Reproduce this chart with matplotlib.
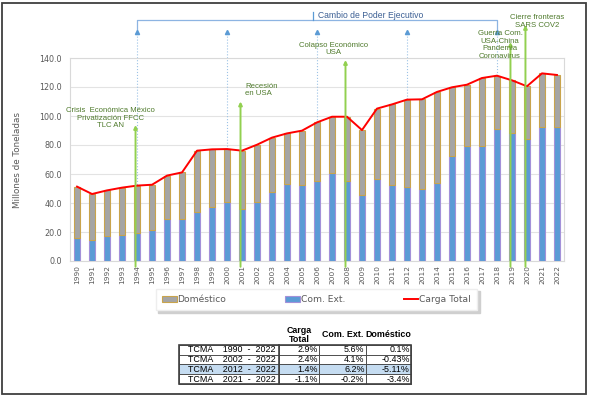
import matplotlib.pyplot as plt
from matplotlib.patches import Rectangle

# datos (millones de toneladas)
years = list(range(1990, 2023))
carga_total = [51.3, 46.2, 48.7, 50.6, 52.0, 52.6, 58.9, 61.1, 76.1, 77.0, 77.2,
               76.1, 80.2, 85.1, 88.0, 89.9, 95.6, 99.5, 99.5, 90.3, 105.1, 108.0,
               111.3, 111.5, 116.6, 119.8, 121.6, 126.2, 127.8, 124.6, 120.5, 129.4, 128.3]
com_ext = [16.1, 14.3, 17.0, 17.9, 19.5, 21.6, 28.7, 28.7, 33.8, 37.2, 40.9,
           35.6, 40.9, 47.8, 53.1, 52.6, 55.4, 60.7, 55.2, 45.5, 56.3, 52.4,
           50.8, 49.9, 54.0, 72.6, 79.5, 79.5, 91.3, 88.0, 83.9, 92.4, 92.2]
domestico = [35.2, 31.9, 31.7, 32.7, 32.5, 31.0, 30.2, 32.4, 42.3, 39.8, 36.3,
             40.5, 39.3, 37.3, 34.9, 37.3, 40.2, 38.8, 44.3, 44.8, 48.8, 55.6,
             60.5, 61.6, 62.6, 47.2, 42.1, 46.7, 36.5, 36.6, 36.6, 37.0, 36.1]

# cambios de poder ejecutivo
cambio_anios = [1994, 2000, 2006, 2012, 2018]

# eventos: (año, punta de flecha, texto, x texto, y texto, alineación)
eventos = [
    (1994, 93.8, 'Crisis  Económica México\nPrivatización FFCC\nTLC AN', 1992.2, 98.6, 'center'),
    (2001, 110.0, 'Recesión\nen USA', 2001.2, 118.0, 'left'),
    (2008, 138.6, 'Colapso Económico\nUSA', 2007.1, 146.2, 'center'),
    (2019, 151.0, 'Guerra Com.\nUSA-China\nPandemia\nCoronavirus', 2018.2, 149.0, 'center'),
    (2020, 162.8, 'Cierre fronteras\nSARS COV2', 2020.7, 165.2, 'center'),
]

# tabla TCMA
periodos = ['TCMA    1990  -  2022', 'TCMA    2002  -  2022',
            'TCMA    2012  -  2022', 'TCMA    2021  -  2022']
tcma_total = ['2.9%', '2.4%', '1.4%', '-1.1%']
tcma_ext = ['5.6%', '4.1%', '6.2%', '-0.2%']
tcma_dom = ['0.1%', '-0.43%', '-5.11%', '-3.4%']

gris = '#595959'
fig = plt.figure(figsize=(5.89, 3.97), dpi=100)
ax = fig.add_axes([70 / 589, 1 - 261 / 397, 494 / 589, 203 / 397])

x = [y - 1990 for y in years]
b_ext = ax.bar(x, com_ext, width=0.45, color='#5b9bd5', edgecolor='#a391d9',
               linewidth=0.8, label='Com. Ext.', zorder=3)
b_dom = ax.bar(x, domestico, width=0.45, bottom=com_ext, color='#a5a5a5',
               edgecolor='#c9a44c', linewidth=0.8, label='Doméstico', zorder=3)
l_tot, = ax.plot(x, carga_total, color='#ff0000', linewidth=1.4, label='Carga Total',
                 zorder=4)

ax.set_xlim(-0.47, 32.47)
ax.set_ylim(0, 140)
ax.set_yticks(range(0, 141, 20))
ax.set_yticklabels([f'{v:.1f}' for v in range(0, 141, 20)])
ax.set_xticks(x)
ax.set_xticklabels([str(y) for y in years], rotation=90)
ax.tick_params(axis='x', labelsize=5.3, colors=gris, length=0, pad=3)
ax.tick_params(axis='y', labelsize=5.8, colors=gris, length=0, pad=6)
ax.grid(axis='y', color='#e3e3e3', linewidth=0.8, zorder=0)
ax.set_axisbelow(True)
for s in ax.spines.values():
    s.set_color('#d9d9d9')
ax.set_ylabel('Millones de Toneladas', fontsize=6.3, color=gris, labelpad=12)

# cambio de poder ejecutivo
azul = '#5b9bd5'
for a in cambio_anios:
    ax.plot([a - 1990, a - 1990], [0, 158], color='#9dc3e6', linestyle=':', linewidth=0.8,
            zorder=1, clip_on=False)
    ax.plot(a - 1990, 158, marker='^', markersize=3, color=azul, clip_on=False, zorder=5)
x0, x1 = cambio_anios[0] - 1990, cambio_anios[-1] - 1990
ax.plot([x0, x0, x1, x1], [158, 166.2, 166.2, 158], color='#8db4e2', linewidth=0.9,
        clip_on=False)
ax.plot([15.7, 15.7], [166.2, 172], color=azul, linewidth=0.9, clip_on=False)
ax.text(16.05, 169.5, 'Cambio de Poder Ejecutivo', fontsize=6.2, color='#3b5f94',
        va='center', ha='left', family='Liberation Sans')

# eventos
for anio, punta, texto, tx, ty, al in eventos:
    xi = anio - 1990 - 0.1
    ax.annotate('', xy=(xi, punta), xytext=(xi, -4),
                arrowprops=dict(arrowstyle='-|>', color='#92d050', lw=1.4,
                                mutation_scale=5, shrinkA=0, shrinkB=0),
                annotation_clip=False, zorder=5)
    ax.text(tx - 1990, ty, texto, fontsize=5.6, color='#4f7a2c', ha=al, va='center',
            multialignment=al, linespacing=1.1, family='Liberation Sans', zorder=6)

# leyenda
leg = fig.legend([b_dom, b_ext, l_tot], ['Doméstico', 'Com. Ext.', 'Carga Total'],
                 loc='center', bbox_to_anchor=(316.5 / 589, 1 - 299.5 / 397), ncol=3,
                 fontsize=6.6, frameon=True, fancybox=False,
                 shadow={'color': '#cfcfcf', 'alpha': 1.0, 'ox': 1.5, 'oy': -1.5},
                 handlelength=1.6, handletextpad=0.1, columnspacing=6.4,
                 borderpad=0.7, edgecolor='#eeeeee', labelcolor=gris)

# tabla
tax = fig.add_axes([179 / 589, 1 - 384 / 397, 232 / 589, 39.3 / 397])
tax.axis('off')
filas = [[periodos[i], tcma_total[i], tcma_ext[i], tcma_dom[i]] for i in range(4)]
anchos = [100 / 232, 40 / 232, 47 / 232, 45 / 232]
tbl = tax.table(cellText=filas, colWidths=anchos, cellLoc='right', bbox=[0, 0, 1, 1])
tbl.auto_set_font_size(False)
for (r, c), cell in tbl.get_celld().items():
    cell.set_fontsize(6.4)
    cell.set_edgecolor('#404040')
    cell.set_linewidth(0.6)
    cell.PAD = 0.03
    cell.get_text().set_family('Liberation Sans')
    if c == 0:
        cell._loc = 'center'
    if r == 2:
        cell.set_facecolor('#c5dcf1')
tax.add_patch(Rectangle((0, 0), 1, 1, fill=False, edgecolor='#404040', linewidth=1.2,
                        transform=tax.transAxes, clip_on=False))
tax.plot([anchos[0], anchos[0]], [0, 1], color='#404040', linewidth=1.2,
         transform=tax.transAxes, clip_on=False)
centros = [anchos[0] + anchos[1] / 2, sum(anchos[:2]) + anchos[2] / 2,
           sum(anchos[:3]) + anchos[3] / 2]
for cx, t in zip(centros, ['Carga\nTotal', 'Com. Ext.', 'Doméstico']):
    tax.text(cx, 1.25, t, ha='center', va='center', fontsize=6.4, fontweight='bold',
             family='Liberation Sans', linespacing=1.0, transform=tax.transAxes)

# marco exterior
fig.patches.append(Rectangle((2 / 589, 3 / 397), 584 / 589, 391 / 397, fill=False,
                             edgecolor='#3f3f3f', linewidth=1.3,
                             transform=fig.transFigure, figure=fig))

fig.savefig('out.png', dpi=100)
